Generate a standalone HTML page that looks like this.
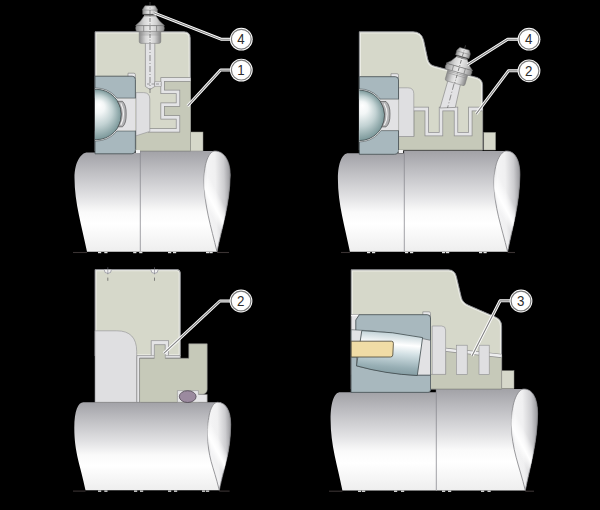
<!DOCTYPE html>
<html><head><meta charset="utf-8"><style>
html,body{margin:0;padding:0;background:#000;}
svg{display:block;}
text{font-family:"Liberation Sans",sans-serif;}
</style></head><body>
<svg width="600" height="510" viewBox="0 0 600 510">
<defs>
<linearGradient id="sg" x1="0" y1="0" x2="0" y2="1">
<stop offset="0" stop-color="#a2a2a7"/><stop offset="0.2" stop-color="#bfbfc3"/><stop offset="0.45" stop-color="#e2e2e4"/><stop offset="0.6" stop-color="#fafafa"/><stop offset="0.72" stop-color="#ffffff"/><stop offset="1" stop-color="#eeeeee"/>
</linearGradient>
<linearGradient id="eg" x1="0" y1="0.5" x2="1" y2="0.4">
<stop offset="0" stop-color="#dcdcde"/><stop offset="0.15" stop-color="#f4f4f5"/><stop offset="0.45" stop-color="#f0f0f1"/><stop offset="0.78" stop-color="#cdcdd0"/><stop offset="1" stop-color="#9c9ca0"/>
</linearGradient>
<linearGradient id="eh" x1="0.15" y1="1.15" x2="0.75" y2="-0.09">
<stop offset="0.38" stop-color="#ffffff" stop-opacity="0"/><stop offset="0.47" stop-color="#ffffff" stop-opacity="1"/><stop offset="0.53" stop-color="#ffffff" stop-opacity="0.6"/><stop offset="0.6" stop-color="#ffffff" stop-opacity="0"/>
</linearGradient>
<radialGradient id="bg" cx="0.5" cy="0.5" r="0.5" fx="0.56" fy="0.3">
<stop offset="0" stop-color="#ffffff"/><stop offset="0.25" stop-color="#f2f6f6"/><stop offset="0.6" stop-color="#c2d2d3"/><stop offset="1" stop-color="#7a9799"/>
</radialGradient>
<linearGradient id="mg" x1="0" y1="0" x2="1" y2="0">
<stop offset="0" stop-color="#8c8c8c"/><stop offset="0.3" stop-color="#d6d6d6"/><stop offset="0.5" stop-color="#ececec"/><stop offset="0.72" stop-color="#cfcfcf"/><stop offset="1" stop-color="#858585"/>
</linearGradient>
<linearGradient id="rg" x1="0.56" y1="0" x2="0.44" y2="1">
<stop offset="0" stop-color="#b4c8ce"/><stop offset="0.3" stop-color="#ffffff"/><stop offset="0.5" stop-color="#d2e0e4"/><stop offset="0.8" stop-color="#98afb5"/><stop offset="1" stop-color="#7f979d"/>
</linearGradient>
<clipPath id="ctl"><rect x="95" y="0" width="200" height="255"/></clipPath>
<clipPath id="ctr"><rect x="359.3" y="0" width="200" height="255"/></clipPath>
<clipPath id="cbr"><rect x="351.2" y="255" width="200" height="255"/></clipPath>
<g id="nip">
<path d="M-10.8,2.8 L10.8,2.8 L10.8,12.9 Q10.8,14.9 8.8,14.9 L-8.8,14.9 Q-10.8,14.9 -10.8,12.9 Z" fill="url(#mg)" stroke="#7a7a7a" stroke-width="0.5"/>
<line x1="-10.8" y1="4.5" x2="10.8" y2="4.5" stroke="#8a8a8a" stroke-width="0.5"/>
<line x1="-10.8" y1="6.4" x2="10.8" y2="6.4" stroke="#8a8a8a" stroke-width="0.5"/>
<path d="M-6,-13.6 L6,-13.6 L6,-12 L-6,-12 Z" fill="#8e8e8e"/>
<path d="M-6,-12.4 L6,-12.4 Q9.2,-6.6 14.5,-2.9 L-14.5,-2.9 Q-9.2,-6.6 -6,-12.4 Z" fill="url(#mg)" stroke="#7a7a7a" stroke-width="0.5"/>
<path d="M-13.6,-2.9 L13.6,-2.9 Q15.3,0 13.6,2.9 L-13.6,2.9 Q-15.3,0 -13.6,-2.9 Z" fill="url(#mg)" stroke="#7a7a7a" stroke-width="0.5"/>
<line x1="-6.3" y1="-2.9" x2="-6.3" y2="2.9" stroke="#7e7e7e" stroke-width="0.8"/>
<line x1="6.6" y1="-2.9" x2="6.6" y2="2.9" stroke="#7e7e7e" stroke-width="0.8"/>
<path d="M-5.1,-22.7 L5.1,-22.7 L7.3,-19.3 L7.3,-14.2 L-7.3,-14.2 L-7.3,-19.3 Z" fill="url(#mg)" stroke="#7a7a7a" stroke-width="0.5"/>
<line x1="-7.3" y1="-18.4" x2="7.3" y2="-18.4" stroke="#8a8a8a" stroke-width="0.6"/>
<line x1="0" y1="-26.5" x2="0" y2="14.9" stroke="#555" stroke-width="0.7" stroke-dasharray="4,1.5,1,1.5"/>
</g>
</defs>
<rect width="600" height="510" fill="#000"/>
<g id="tl">
<line x1="73" y1="252.5" x2="87" y2="252.5" stroke="#3a3333" stroke-width="1.1"/>
<line x1="217" y1="252.5" x2="229" y2="252.5" stroke="#3a3333" stroke-width="1.1"/>
<path d="M140,151 L215,151 C223,151 230.2,159 230.2,175 C229.7,205 222,226.7 217,251.7 L140,251.7 Z" fill="url(#sg)"/>
<path d="M215,151 C223,151 230.2,159 230.2,175 C229.7,205 222,226.7 217,251.7 C211,226.7 204,205 204,180 C204,163 209,151 215,151 Z" fill="url(#eg)" stroke="#808084" stroke-width="0.8"/>
<path d="M215,151 C223,151 230.2,159 230.2,175 C229.7,205 222,226.7 217,251.7 C211,226.7 204,205 204,180 C204,163 209,151 215,151 Z" fill="url(#eh)" stroke="none" stroke-width="0.8"/>
<path d="M87,152.4 L140.5,152.4 L140.5,251.7 L87,251.7 C82,226.7 74.5,203 74.5,178 C74.5,160.4 82,152.4 87,152.4 Z" fill="url(#sg)"/>
<line x1="140.3" y1="151" x2="140.3" y2="251.7" stroke="#8c8c90" stroke-width="0.8"/>
<clipPath id="hc1"><path d="M95,31.8 L184,31.8 Q190.2,31.8 190.2,38 L190.5,151 L95,151 Z"/></clipPath>
<path d="M95,31.8 L184,31.8 Q190.2,31.8 190.2,38 L190.5,151 L95,151 Z" fill="#d6d8ca"/>
<path d="M95,31.8 L184,31.8 Q190.2,31.8 190.2,38 L190.5,151 L95,151 Z" fill="none" stroke="#ebece4" stroke-width="3.4" clip-path="url(#hc1)"/>
<path d="M95,31.8 L184,31.8 Q190.2,31.8 190.2,38 L190.5,151 L95,151 Z" fill="none" stroke="#83848a" stroke-width="0.9"/>
<rect x="190.5" y="132" width="12.5" height="19" fill="#d6d8ca" stroke="#8e8f88" stroke-width="0.5"/>
<path d="M190.5,79.5 L162.6,79.5 L162.6,91.8 L178,91.8 L178,104.7 L162.6,104.7 L162.6,117.4 L178,117.4 L178,130.3 L136,130.3 L136,151 L190.5,151 Z" fill="#c6c9b9" stroke="#8e8f88" stroke-width="0.7"/>
<polyline points="190.5,79.5 162.6,79.5 162.6,91.8 178,91.8 178,104.7 162.6,104.7 162.6,117.4 178,117.4 178,130.3 148,130.3" fill="none" stroke="#8e8e8e" stroke-width="4.3"/>
<polyline points="190.5,79.5 162.6,79.5 162.6,91.8 178,91.8 178,104.7 162.6,104.7 162.6,117.4 178,117.4 178,130.3 148,130.3" fill="none" stroke="#e4e4e6" stroke-width="2.8"/>
<path d="M136,92.6 L143.5,92.6 Q149.8,92.6 149.8,99 L149.8,131.4 L136,135.8 Z" fill="#dfdfe1" stroke="#8e8e90" stroke-width="0.6"/>
<path d="M128,77.2 L128,73.2 L133.9,73.2 Q135.4,73.2 135.4,74.7 L135.4,79.2" fill="#e8e8ea" stroke="#7a7a7a" stroke-width="0.6"/>
<path d="M95,76.2 L132.20000000000002,76.2 Q135.4,76.2 135.4,79.4 L135.4,98.2 L95,98.2 Z" fill="#a8b8be" stroke="#4f585b" stroke-width="0.9"/>
<path d="M95,130.9 L135.4,130.9 L135.4,149.60000000000002 Q135.4,153.8 131.20000000000002,153.8 L95,153.8 Z" fill="#a8b8be" stroke="#4f585b" stroke-width="0.9"/>
<circle cx="96.2" cy="114.5" r="26.5" fill="#eeeeef" stroke="#4f585b" stroke-width="0.6" clip-path="url(#ctl)"/>
<rect x="96.2" y="98.55" width="38.85" height="32.0" fill="#e2e2e4"/>
<circle cx="96.2" cy="114.5" r="25.2" fill="url(#bg)" stroke="#3f4a4c" stroke-width="0.8" clip-path="url(#ctl)"/>
<path d="M117.67,101.3 L122.5,101.3 Q126.4,105.0 126.2,114.05 Q126.4,123.5 122.5,126.8 L118.19,126.8 A25.2,25.2 0 0 0 117.67,101.3 Z" fill="#b2b2b4" stroke="#444" stroke-width="0.6"/>
<path d="M120.8,103.2 Q126.2,114.05 120.8,124.89999999999999" fill="none" stroke="#f2f2f2" stroke-width="1.1"/>
<rect x="136" y="150" width="4" height="3" fill="#f4f4f4"/>
<path d="M145.4,42 L154.8,42 L154.8,86.5 L150,89.5 L145.4,86.5 Z" fill="#e2e2e4" stroke="#8a8a8a" stroke-width="0.7"/>
<rect x="154.8" y="81.8" width="6.4" height="4.4" fill="#e2e2e4" stroke="#8a8a8a" stroke-width="0.5"/>
<line x1="150" y1="44" x2="150" y2="93" stroke="#666" stroke-width="0.7" stroke-dasharray="6,2,1,2"/>
<line x1="147" y1="84" x2="161" y2="84" stroke="#666" stroke-width="0.6" stroke-dasharray="3,1.5"/>
<use href="#nip" transform="translate(150,28.5)"/>
<rect x="98" y="251.9" width="3.2" height="1.3" fill="#e6e6e6"/>
<rect x="104.3" y="251.9" width="3.2" height="1.3" fill="#e6e6e6"/>
<rect x="133.2" y="251.9" width="3.2" height="1.3" fill="#e6e6e6"/>
<rect x="139.2" y="251.9" width="3.2" height="1.3" fill="#e6e6e6"/>
<rect x="168" y="251.9" width="3.2" height="1.3" fill="#e6e6e6"/>
<rect x="173" y="251.9" width="3.2" height="1.3" fill="#e6e6e6"/>
<rect x="206" y="251.9" width="3.2" height="1.3" fill="#e6e6e6"/>
<rect x="209.5" y="251.9" width="3.2" height="1.3" fill="#e6e6e6"/>
</g>
<g id="tr">
<line x1="341" y1="252.5" x2="349.9" y2="252.5" stroke="#3a3333" stroke-width="1.1"/>
<line x1="507.6" y1="252.5" x2="515" y2="252.5" stroke="#3a3333" stroke-width="1.1"/>
<path d="M404,151 L506.5,151 C514.5,151 519.9,159 519.9,175 C519.4,205 512.6,226.7 507.6,251.7 L404,251.7 Z" fill="url(#sg)"/>
<path d="M506.5,151 C514.5,151 519.9,159 519.9,175 C519.4,205 512.6,226.7 507.6,251.7 C501.6,226.7 494,207 494,182 C494,163 500.5,151 506.5,151 Z" fill="url(#eg)" stroke="#808084" stroke-width="0.8"/>
<path d="M506.5,151 C514.5,151 519.9,159 519.9,175 C519.4,205 512.6,226.7 507.6,251.7 C501.6,226.7 494,207 494,182 C494,163 500.5,151 506.5,151 Z" fill="url(#eh)" stroke="none" stroke-width="0.8"/>
<path d="M348,153.2 L404.5,153.2 L404.5,251.7 L349.9,251.7 C344.9,226.7 337.9,204 337.9,179 C337.9,161.2 343,153.2 348,153.2 Z" fill="url(#sg)"/>
<line x1="404.3" y1="151" x2="404.3" y2="251.7" stroke="#8c8c90" stroke-width="0.8"/>
<clipPath id="hc2"><path d="M359.3,31.75 L413,31.75 Q421.5,31.75 423.6,40 L427.7,59 Q429,64.7 434,66 L477,77.5 Q482.6,79.5 482.6,85 L482.6,150 L359.3,150 Z"/></clipPath>
<path d="M359.3,31.75 L413,31.75 Q421.5,31.75 423.6,40 L427.7,59 Q429,64.7 434,66 L477,77.5 Q482.6,79.5 482.6,85 L482.6,150 L359.3,150 Z" fill="#d6d8ca"/>
<path d="M359.3,31.75 L413,31.75 Q421.5,31.75 423.6,40 L427.7,59 Q429,64.7 434,66 L477,77.5 Q482.6,79.5 482.6,85 L482.6,150 L359.3,150 Z" fill="none" stroke="#ebece4" stroke-width="3.4" clip-path="url(#hc2)"/>
<path d="M359.3,31.75 L413,31.75 Q421.5,31.75 423.6,40 L427.7,59 Q429,64.7 434,66 L477,77.5 Q482.6,79.5 482.6,85 L482.6,150 L359.3,150 Z" fill="none" stroke="#83848a" stroke-width="0.9"/>
<rect x="483.8" y="132.4" width="11.8" height="17.6" fill="#d6d8ca" stroke="#8e8f88" stroke-width="0.5"/>
<path d="M414,109 L426.75,109 L426.75,134.2 L441,134.2 L441,109 L456,109 L456,134.2 L470.3,134.2 L470.3,109 L482.6,109 L482.6,150 L398.6,150 L398.6,136.5 L414,136.5 Z" fill="#c6c9b9" stroke="#8e8f88" stroke-width="0.7"/>
<polyline points="413,109 426.75,109 426.75,134.2 441,134.2 441,109 456,109 456,134.2 470.3,134.2 470.3,109 482.6,109" fill="none" stroke="#8e8e8e" stroke-width="4.3"/>
<polyline points="413,109 426.75,109 426.75,134.2 441,134.2 441,109 456,109 456,134.2 470.3,134.2 470.3,109 482.6,109" fill="none" stroke="#e4e4e6" stroke-width="2.8"/>
<path d="M398.6,87.8 L407.8,87.8 Q413.8,87.8 413.8,93.8 L413.8,136.5 L398.6,136.5 Z" fill="#dfdfe1" stroke="#8e8e90" stroke-width="0.6"/>
<path d="M391,77.7 L391,73.7 L397.0,73.7 Q398.5,73.7 398.5,75.2 L398.5,79.7" fill="#e8e8ea" stroke="#7a7a7a" stroke-width="0.6"/>
<path d="M359.3,76.7 L395.3,76.7 Q398.5,76.7 398.5,79.9 L398.5,99.2 L359.3,99.2 Z" fill="#a8b8be" stroke="#4f585b" stroke-width="0.9"/>
<path d="M359.3,130.6 L398.5,130.6 L398.5,150.10000000000002 Q398.5,154.3 394.3,154.3 L359.3,154.3 Z" fill="#a8b8be" stroke="#4f585b" stroke-width="0.9"/>
<circle cx="359.4" cy="115.4" r="26.5" fill="#eeeeef" stroke="#4f585b" stroke-width="0.6" clip-path="url(#ctr)"/>
<rect x="359.4" y="99.55" width="38.75000000000002" height="30.699999999999992" fill="#e2e2e4"/>
<circle cx="359.4" cy="115.4" r="25.2" fill="url(#bg)" stroke="#3f4a4c" stroke-width="0.8" clip-path="url(#ctr)"/>
<path d="M380.42,101.5 L386.0,101.5 Q390.2,105.2 390.0,114.2 Q390.2,123.60000000000001 386.0,126.9 L381.82,126.9 A25.2,25.2 0 0 0 380.42,101.5 Z" fill="#b2b2b4" stroke="#444" stroke-width="0.6"/>
<path d="M384.3,103.4 Q390.0,114.2 384.3,125.0" fill="none" stroke="#f2f2f2" stroke-width="1.1"/>
<rect x="398.6" y="150" width="4.5" height="3" fill="#f4f4f4"/>
<path d="M449.5,75 L462.2,76.5 L455.3,107.4 L440,108 Z" fill="#e2e2e4" stroke="#8a8a8a" stroke-width="0.7"/>
<line x1="454" y1="84" x2="447.5" y2="108" stroke="#666" stroke-width="0.7" stroke-dasharray="6,2,1,2"/>
<use href="#nip" transform="translate(458.6,69.6) rotate(16) scale(0.95)"/>
<rect x="367" y="251.9" width="3.2" height="1.3" fill="#e6e6e6"/>
<rect x="372" y="251.9" width="3.2" height="1.3" fill="#e6e6e6"/>
<rect x="405" y="251.9" width="3.2" height="1.3" fill="#e6e6e6"/>
<rect x="410" y="251.9" width="3.2" height="1.3" fill="#e6e6e6"/>
<rect x="442" y="251.9" width="3.2" height="1.3" fill="#e6e6e6"/>
<rect x="446" y="251.9" width="3.2" height="1.3" fill="#e6e6e6"/>
<rect x="479" y="251.9" width="3.2" height="1.3" fill="#e6e6e6"/>
<rect x="483.5" y="251.9" width="3.2" height="1.3" fill="#e6e6e6"/>
</g>
<g id="bl">
<line x1="73" y1="491.1" x2="85.5" y2="491.1" stroke="#3a3333" stroke-width="1.1"/>
<line x1="219.3" y1="491.1" x2="229.6" y2="491.1" stroke="#3a3333" stroke-width="1.1"/>
<path d="M140,402.3 L217.7,402.3 C225.7,402.3 230.7,410.3 230.7,424.5 C230.2,454.5 224.3,465.3 219.3,490.3 L140,490.3 Z" fill="url(#sg)"/>
<path d="M217.7,402.3 C225.7,402.3 230.7,410.3 230.7,424.5 C230.2,454.5 224.3,465.3 219.3,490.3 C213.3,465.3 207.6,458 207.6,433 C207.6,414.3 211.7,402.3 217.7,402.3 Z" fill="url(#eg)" stroke="#808084" stroke-width="0.8"/>
<path d="M217.7,402.3 C225.7,402.3 230.7,410.3 230.7,424.5 C230.2,454.5 224.3,465.3 219.3,490.3 C213.3,465.3 207.6,458 207.6,433 C207.6,414.3 211.7,402.3 217.7,402.3 Z" fill="url(#eh)" stroke="none" stroke-width="0.8"/>
<path d="M83.3,402.3 L140.5,402.3 L140.5,490.3 L85.5,490.3 C80.5,465.3 74.3,453 74.3,428 C74.3,410.3 78.3,402.3 83.3,402.3 Z" fill="url(#sg)"/>
<clipPath id="hc3"><path d="M95,269.6 L177,269.6 Q180.3,269.6 180.3,273 L180.3,356 L95,356 Z"/></clipPath>
<path d="M95,269.6 L177,269.6 Q180.3,269.6 180.3,273 L180.3,356 L95,356 Z" fill="#d6d8ca"/>
<path d="M95,269.6 L177,269.6 Q180.3,269.6 180.3,273 L180.3,356 L95,356 Z" fill="none" stroke="#ebece4" stroke-width="3.4" clip-path="url(#hc3)"/>
<path d="M95,269.6 L177,269.6 Q180.3,269.6 180.3,273 L180.3,356 L95,356 Z" fill="none" stroke="#83848a" stroke-width="0.9"/>
<path d="M104.2,269.8 A3.6,3.6 0 0 0 111.39999999999999,269.8" fill="#f0f0f0" stroke="#7a7a86" stroke-width="0.6"/>
<line x1="107.8" y1="267.3" x2="107.8" y2="274.3" stroke="#7a7a86" stroke-width="0.6"/>
<line x1="107.8" y1="277.6" x2="107.8" y2="280.8" stroke="#555" stroke-width="0.7"/>
<path d="M150.9,269.8 A3.6,3.6 0 0 0 158.1,269.8" fill="#f0f0f0" stroke="#7a7a86" stroke-width="0.6"/>
<line x1="154.5" y1="267.3" x2="154.5" y2="274.3" stroke="#7a7a86" stroke-width="0.6"/>
<line x1="154.5" y1="277.6" x2="154.5" y2="280.8" stroke="#555" stroke-width="0.7"/>
<path d="M136.7,355.6 L151.3,355.6 L151.3,340.6 L168.5,340.6 L168.5,355.6 L180.3,355.6 L180.3,358 L139.6,358 L139.6,402.3 L136.7,402.3 Z" fill="#e4e4e6" stroke="#8e8e8e" stroke-width="0.6"/>
<path d="M139.6,358.3 L154.3,358.3 L154.3,344.6 L165.3,344.6 L165.3,358.3 L188.8,358.3 L188.8,343.8 L207.2,343.8 L207.2,389.4 A5,5 0 0 1 202.2,394.4 L198.4,394.4 L198.4,402.3 L139.6,402.3 Z" fill="#c6c9b9" stroke="#8e8e8e" stroke-width="0.6"/>
<path d="M151.3,340.6 L168.5,340.6 L168.5,355.6 L165.3,355.6 L165.3,344.6 L154.3,344.6 L154.3,355.6 L151.3,355.6 Z" fill="#e4e4e6" stroke="#8e8e8e" stroke-width="0.6"/>
<path d="M95,330.8 L116.7,330.8 Q136.7,330.8 136.7,351.5 L136.7,402.3 L95,402.3 Z" fill="#dfdfe1" stroke="#8e8e90" stroke-width="0.6"/>
<path d="M177.4,402.3 L177.4,390.6 L198.4,390.6 L198.4,394.4 L207.2,394.4 L207.2,402.3 Z" fill="#e6e6e8" stroke="#8e8e8e" stroke-width="0.6"/>
<ellipse cx="187.7" cy="396.6" rx="8.4" ry="5.9" fill="#9b8a9f" stroke="#3d3540" stroke-width="0.7"/>
<rect x="98" y="490.5" width="3.2" height="1.3" fill="#e6e6e6"/>
<rect x="104.3" y="490.5" width="3.2" height="1.3" fill="#e6e6e6"/>
<rect x="134" y="490.5" width="3.2" height="1.3" fill="#e6e6e6"/>
<rect x="140" y="490.5" width="3.2" height="1.3" fill="#e6e6e6"/>
<rect x="168" y="490.5" width="3.2" height="1.3" fill="#e6e6e6"/>
<rect x="174" y="490.5" width="3.2" height="1.3" fill="#e6e6e6"/>
<rect x="202" y="490.5" width="3.2" height="1.3" fill="#e6e6e6"/>
<rect x="206" y="490.5" width="3.2" height="1.3" fill="#e6e6e6"/>
</g>
<g id="br">
<line x1="329" y1="491.2" x2="342.4" y2="491.2" stroke="#3a3333" stroke-width="1.1"/>
<line x1="525.3" y1="491.2" x2="534" y2="491.2" stroke="#3a3333" stroke-width="1.1"/>
<path d="M436,389 L524,389 C532,389 537.6,397 537.6,414 C537.1,444 530.3,465.4 525.3,490.4 L436,490.4 Z" fill="url(#sg)"/>
<path d="M524,389 C532,389 537.6,397 537.6,414 C537.1,444 530.3,465.4 525.3,490.4 C519.3,465.4 511.4,449 511.4,424 C511.4,401 518,389 524,389 Z" fill="url(#eg)" stroke="#808084" stroke-width="0.8"/>
<path d="M524,389 C532,389 537.6,397 537.6,414 C537.1,444 530.3,465.4 525.3,490.4 C519.3,465.4 511.4,449 511.4,424 C511.4,401 518,389 524,389 Z" fill="url(#eh)" stroke="none" stroke-width="0.8"/>
<path d="M340,392.3 L436.5,392.3 L436.5,490.4 L342.4,490.4 C337.4,465.4 330.6,445 330.6,420 C330.6,400.3 335,392.3 340,392.3 Z" fill="url(#sg)"/>
<line x1="436.3" y1="389" x2="436.3" y2="490.4" stroke="#8c8c90" stroke-width="0.8"/>
<clipPath id="hc4"><path d="M351.2,269.8 L448.5,269.8 Q455,270 456.5,277 L461.3,297.3 Q462.5,302.5 468,305 L495,316.8 Q501.6,319.5 501.6,326 L501.6,389 L351.2,389 Z"/></clipPath>
<path d="M351.2,269.8 L448.5,269.8 Q455,270 456.5,277 L461.3,297.3 Q462.5,302.5 468,305 L495,316.8 Q501.6,319.5 501.6,326 L501.6,389 L351.2,389 Z" fill="#d6d8ca"/>
<path d="M351.2,269.8 L448.5,269.8 Q455,270 456.5,277 L461.3,297.3 Q462.5,302.5 468,305 L495,316.8 Q501.6,319.5 501.6,326 L501.6,389 L351.2,389 Z" fill="none" stroke="#ebece4" stroke-width="3.4" clip-path="url(#hc4)"/>
<path d="M351.2,269.8 L448.5,269.8 Q455,270 456.5,277 L461.3,297.3 Q462.5,302.5 468,305 L495,316.8 Q501.6,319.5 501.6,326 L501.6,389 L351.2,389 Z" fill="none" stroke="#83848a" stroke-width="0.9"/>
<rect x="501.6" y="370.7" width="12.4" height="18" fill="#d6d8ca" stroke="#8e8f88" stroke-width="0.5"/>
<path d="M445.6,349.7 L501.6,355.9 L501.6,389 L430.5,389 L430.5,374.4 L445.6,374.4 Z" fill="#c6c9b9" stroke="#8e8f88" stroke-width="0.7"/>
<line x1="445.6" y1="349.7" x2="501.6" y2="355.9" stroke="#8e8e8e" stroke-width="4"/>
<line x1="445.6" y1="349.7" x2="501.6" y2="355.9" stroke="#ededee" stroke-width="2.6"/>
<rect x="456.3" y="345.2" width="10.899999999999977" height="29.2" fill="#dfdfe1" stroke="#8e8e90" stroke-width="0.6"/>
<rect x="479" y="345.2" width="10.199999999999989" height="29.2" fill="#dfdfe1" stroke="#8e8e90" stroke-width="0.6"/>
<path d="M432.2,326 L441.6,326 Q445.6,326 445.6,330 L445.6,374.4 L432.2,374.4 Z" fill="#dfdfe1" stroke="#8e8e90" stroke-width="0.6"/>
<path d="M422.8,315.7 L422.8,311.8 L429,311.8 Q430.5,311.8 430.5,313.3 L430.5,317.7" fill="#e8e8ea" stroke="#7a7a7a" stroke-width="0.6"/>
<rect x="351.2" y="314.4" width="8" height="16" fill="#e4e4e6" stroke="#6a6a6c" stroke-width="0.5"/>
<line x1="351.2" y1="315.5" x2="358.5" y2="315.5" stroke="#fafafa" stroke-width="1.4"/>
<path d="M355.8,320 L359.3,314.7 L427.3,314.7 Q430.5,314.7 430.5,317.9 L430.5,389.1 Q430.5,392.3 427.3,392.3 L351.2,392.3 L351.2,331 L355.8,331 Z" fill="#a8b8be" stroke="#4f585b" stroke-width="0.9"/>
<path d="M351.2,329.7 Q392,331 430.5,340.3 L430.5,375 L351.2,375 Z" fill="#e2e2e4" stroke="#4f585b" stroke-width="0.6"/>
<path d="M351.2,357 L356.5,357 L356.5,366 Q390,374 417.3,375.5 L430.5,375.5 L430.5,389.8 Q430.5,392.3 428,392.3 L351.2,392.3 Z" fill="#a8b8be" stroke="#4f585b" stroke-width="0.6"/>
<path d="M361.8,330.6 Q393,331.5 422.6,337.6 L417.3,375.5 Q385,374 356.5,365.8 Z" fill="url(#rg)" stroke="#3f4a4c" stroke-width="0.8"/>
<path d="M351.2,341.2 L391.5,341.2 Q393.5,341.2 393.4,343.5 L392.8,355 Q392.6,357 390.5,357 L351.2,357 Z" fill="#f0dca6" stroke="#4a4434" stroke-width="0.8"/>
<rect x="358" y="490.6" width="3.2" height="1.3" fill="#e6e6e6"/>
<rect x="362" y="490.6" width="3.2" height="1.3" fill="#e6e6e6"/>
<rect x="394" y="490.6" width="3.2" height="1.3" fill="#e6e6e6"/>
<rect x="401" y="490.6" width="3.2" height="1.3" fill="#e6e6e6"/>
<rect x="442" y="490.6" width="3.2" height="1.3" fill="#e6e6e6"/>
<rect x="448" y="490.6" width="3.2" height="1.3" fill="#e6e6e6"/>
<rect x="481" y="490.6" width="3.2" height="1.3" fill="#e6e6e6"/>
<rect x="487.5" y="490.6" width="3.2" height="1.3" fill="#e6e6e6"/>
</g>
<g fill="none" stroke="#ffffff" stroke-width="3" stroke-linejoin="round">
<polyline points="153.8,12.8 221,39.2 231,39.2"/>
<polyline points="187.6,105.9 220.6,70.1 231,70.1"/>
<polyline points="467.5,64.7 507.7,39.2 519,39.2"/>
<polyline points="476.2,113.8 508.4,70.8 519,70.8"/>
<polyline points="163.8,353.4 220,301 231,301"/>
<polyline points="472,355.9 500.1,300.8 511,300.8"/>
</g>
<g fill="none" stroke="#858585" stroke-width="1.15" stroke-linejoin="round">
<polyline points="153.8,12.8 221,39.2 231,39.2"/>
<polyline points="187.6,105.9 220.6,70.1 231,70.1"/>
<polyline points="467.5,64.7 507.7,39.2 519,39.2"/>
<polyline points="476.2,113.8 508.4,70.8 519,70.8"/>
<polyline points="163.8,353.4 220,301 231,301"/>
<polyline points="472,355.9 500.1,300.8 511,300.8"/>
</g>
<circle cx="241.3" cy="39.2" r="11.4" fill="#fff"/><circle cx="241.3" cy="39.2" r="9.9" fill="#fff" stroke="#7a7a7a" stroke-width="1.2"/>
<text transform="translate(241.0,44.2) scale(0.9,1)" fill="#2e2e2e" font-size="14.8" text-anchor="middle">4</text>
<circle cx="241.3" cy="70.1" r="11.4" fill="#fff"/><circle cx="241.3" cy="70.1" r="9.9" fill="#fff" stroke="#7a7a7a" stroke-width="1.2"/>
<text transform="translate(241.0,75.1) scale(0.9,1)" fill="#2e2e2e" font-size="14.8" text-anchor="middle">1</text>
<circle cx="529" cy="39.2" r="11.4" fill="#fff"/><circle cx="529" cy="39.2" r="9.9" fill="#fff" stroke="#7a7a7a" stroke-width="1.2"/>
<text transform="translate(528.7,44.2) scale(0.9,1)" fill="#2e2e2e" font-size="14.8" text-anchor="middle">4</text>
<circle cx="529" cy="70.8" r="11.4" fill="#fff"/><circle cx="529" cy="70.8" r="9.9" fill="#fff" stroke="#7a7a7a" stroke-width="1.2"/>
<text transform="translate(528.7,75.8) scale(0.9,1)" fill="#2e2e2e" font-size="14.8" text-anchor="middle">2</text>
<circle cx="241" cy="301" r="11.4" fill="#fff"/><circle cx="241" cy="301" r="9.9" fill="#fff" stroke="#7a7a7a" stroke-width="1.2"/>
<text transform="translate(240.7,306) scale(0.9,1)" fill="#2e2e2e" font-size="14.8" text-anchor="middle">2</text>
<circle cx="521" cy="301" r="11.4" fill="#fff"/><circle cx="521" cy="301" r="9.9" fill="#fff" stroke="#7a7a7a" stroke-width="1.2"/>
<text transform="translate(520.7,306) scale(0.9,1)" fill="#2e2e2e" font-size="14.8" text-anchor="middle">3</text>
</svg>
</body></html>
